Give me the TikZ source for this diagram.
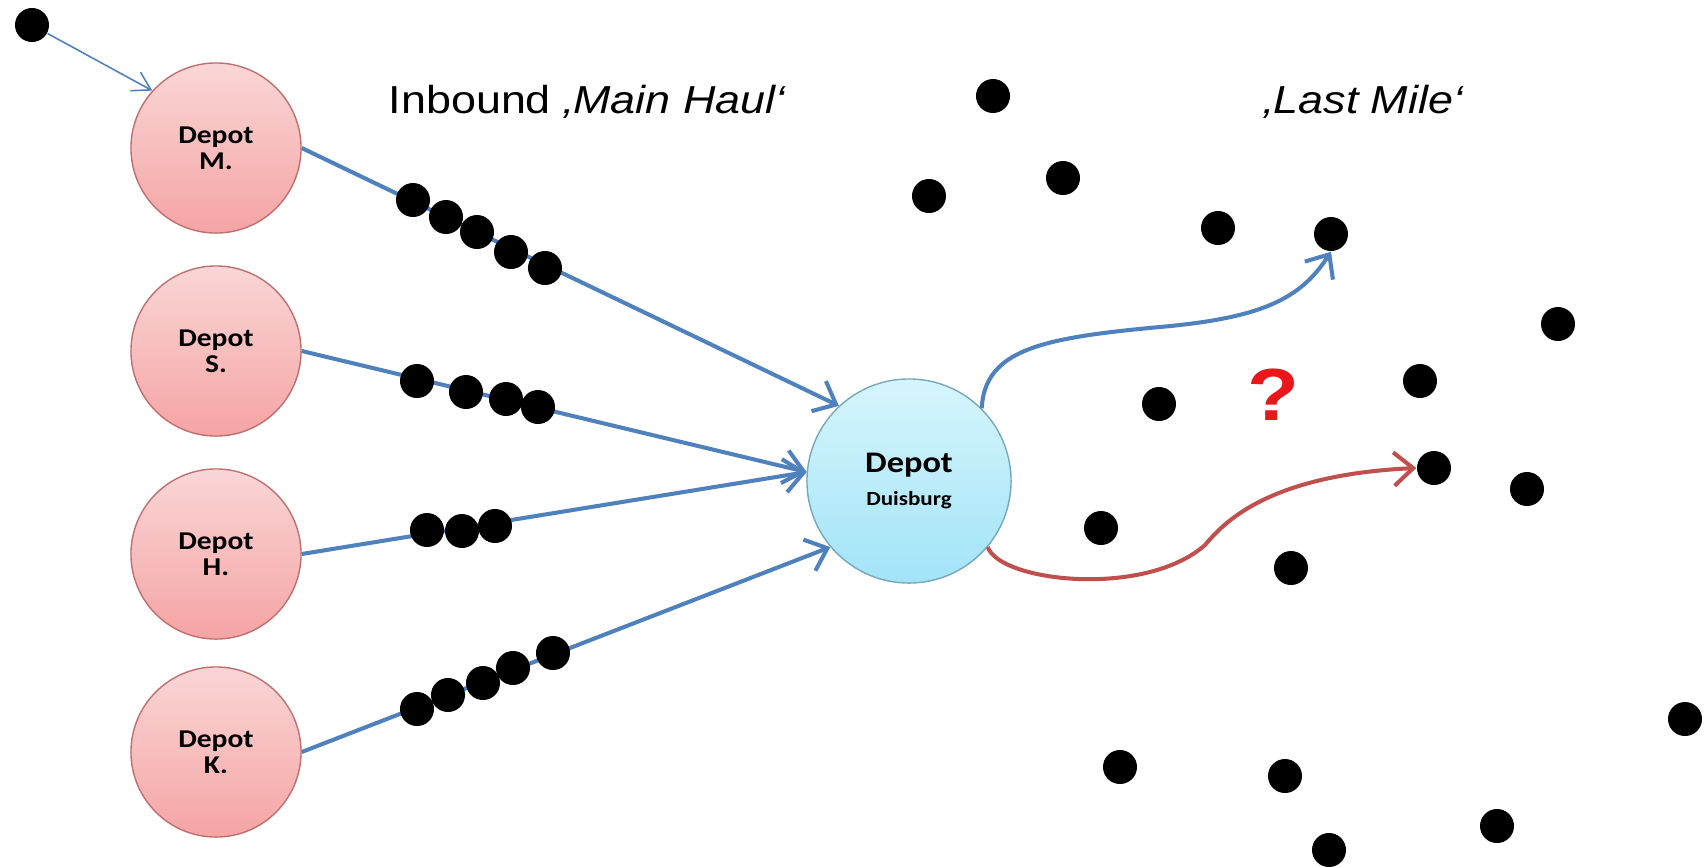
\documentclass[tikz,border=0pt]{standalone}
\usepackage{fontspec}
\usepackage{tikz}
\usetikzlibrary{arrows.meta}
\newfontfamily\headfont[FakeStretch=1.15]{Liberation Sans}
\newfontfamily\depotfont[FakeStretch=1.15]{Carlito}
\definecolor{pinktop}{RGB}{250,214,214}
\definecolor{pinkbottom}{RGB}{245,164,164}
\definecolor{pinkborder}{RGB}{190,112,112}
\definecolor{cyantop}{RGB}{214,245,252}
\definecolor{cyanbottom}{RGB}{162,228,248}
\definecolor{cyanborder}{RGB}{118,168,188}
\definecolor{haulblue}{RGB}{79,129,189}
\definecolor{milered}{RGB}{192,80,77}
\definecolor{qred}{RGB}{235,22,26}
\tikzset{
  depot/.style={circle, draw=pinkborder, top color=pinktop, bottom color=pinkbottom,
    minimum size=1.7cm, inner sep=0pt, align=center,
    font=\depotfont\bfseries\fontsize{7.3pt}{7.4pt}\selectfont},
  hub/.style={circle, draw=cyanborder, top color=cyantop, bottom color=cyanbottom,
    minimum size=2.04cm, inner sep=0pt, align=center,
    font=\depotfont\bfseries\fontsize{5.7pt}{9.4pt}\selectfont},
  dot/.style={circle, fill=black, minimum size=0.34cm, inner sep=0pt},
  haul/.style={draw=haulblue, line width=1.15pt, -{Straight Barb[length=5.5pt,width=9.5pt]}},
  heading/.style={anchor=base west, inner sep=0pt, font=\headfont\fontsize{11.1pt}{13pt}\selectfont}
}
\begin{document}
\begin{tikzpicture}[x=0.01cm,y=-0.01cm]
        \useasboundingbox (0,0) rectangle (1708,866);
        \node[depot] (m) at (216,148) {Depot\\M.};
        \node[depot] (s) at (216,351) {Depot\\S.};
        \node[depot] (h) at (216,554) {Depot\\H.};
        \node[depot] (k) at (216,752) {Depot\\K.};
        \node[hub] (dui) at (909,481) {{\fontsize{8.5pt}{9pt}\selectfont Depot}\\Duisburg};
        \node[heading] (inbound) at (388,113) {Inbound \itshape‚Main Haul‘};
        \node[heading] (lastmile) at (1263,113) {\itshape‚Last Mile‘};
        \node[font=\headfont\bfseries\fontsize{21pt}{24pt}\selectfont, text=qred, inner sep=0pt] (q) at (1273,395) {?};
        \node[dot] (c0) at (32,25) {};
        \node[dot] (c1) at (993,96) {};
        \node[dot] (c2) at (929,196) {};
        \node[dot] (c3) at (1063,178) {};
        \node[dot] (c4) at (1218,228) {};
        \node[dot] (c5) at (1331,234) {};
        \node[dot] (c6) at (1558,324) {};
        \node[dot] (c7) at (1420,381) {};
        \node[dot] (c8) at (1159,404) {};
        \node[dot] (c9) at (1434,468) {};
        \node[dot] (c10) at (1527,489) {};
        \node[dot] (c11) at (1101,528) {};
        \node[dot] (c12) at (1291,568) {};
        \node[dot] (c13) at (1685,719) {};
        \node[dot] (c14) at (1120,767) {};
        \node[dot] (c15) at (1285,776) {};
        \node[dot] (c16) at (1497,826) {};
        \node[dot] (c17) at (1329,850) {};
        \draw[draw=haulblue, line width=0.45pt, -{Straight Barb[length=5pt,width=6pt]}] (c0) -- (m.138);
        \draw[haul] (m.east) -- (dui.133);
        \draw[haul] (s.east) -- (dui.175);
        \draw[haul] (h.east) -- (dui.175);
        \draw[haul] (k.east) -- (dui.220);
        \draw[haul] (dui.45) .. controls (985,350) and (1040,338) .. (1160,327)
            .. controls (1260,318) and (1300,300) .. (c5.south);
        \draw[haul, draw=milered] (dui.-40) .. controls (1000,582) and (1145,598) .. (1205,545)
            .. controls (1222,525) and (1265,475) .. (c9.west);
        \node[dot] (m1) at (413,200) {};
        \node[dot] (m2) at (446,217) {};
        \node[dot] (m3) at (477,232) {};
        \node[dot] (m4) at (511,252) {};
        \node[dot] (m5) at (545,268) {};
        \node[dot] (s1) at (417,381) {};
        \node[dot] (s2) at (466,392) {};
        \node[dot] (s3) at (506,399) {};
        \node[dot] (s4) at (538,407) {};
        \node[dot] (h1) at (427,530) {};
        \node[dot] (h2) at (462,531) {};
        \node[dot] (h3) at (495,526) {};
        \node[dot] (k1) at (417,709) {};
        \node[dot] (k2) at (448,695) {};
        \node[dot] (k3) at (483,683) {};
        \node[dot] (k4) at (513,668) {};
        \node[dot] (k5) at (553,653) {};
    \end{tikzpicture}
\end{document}
